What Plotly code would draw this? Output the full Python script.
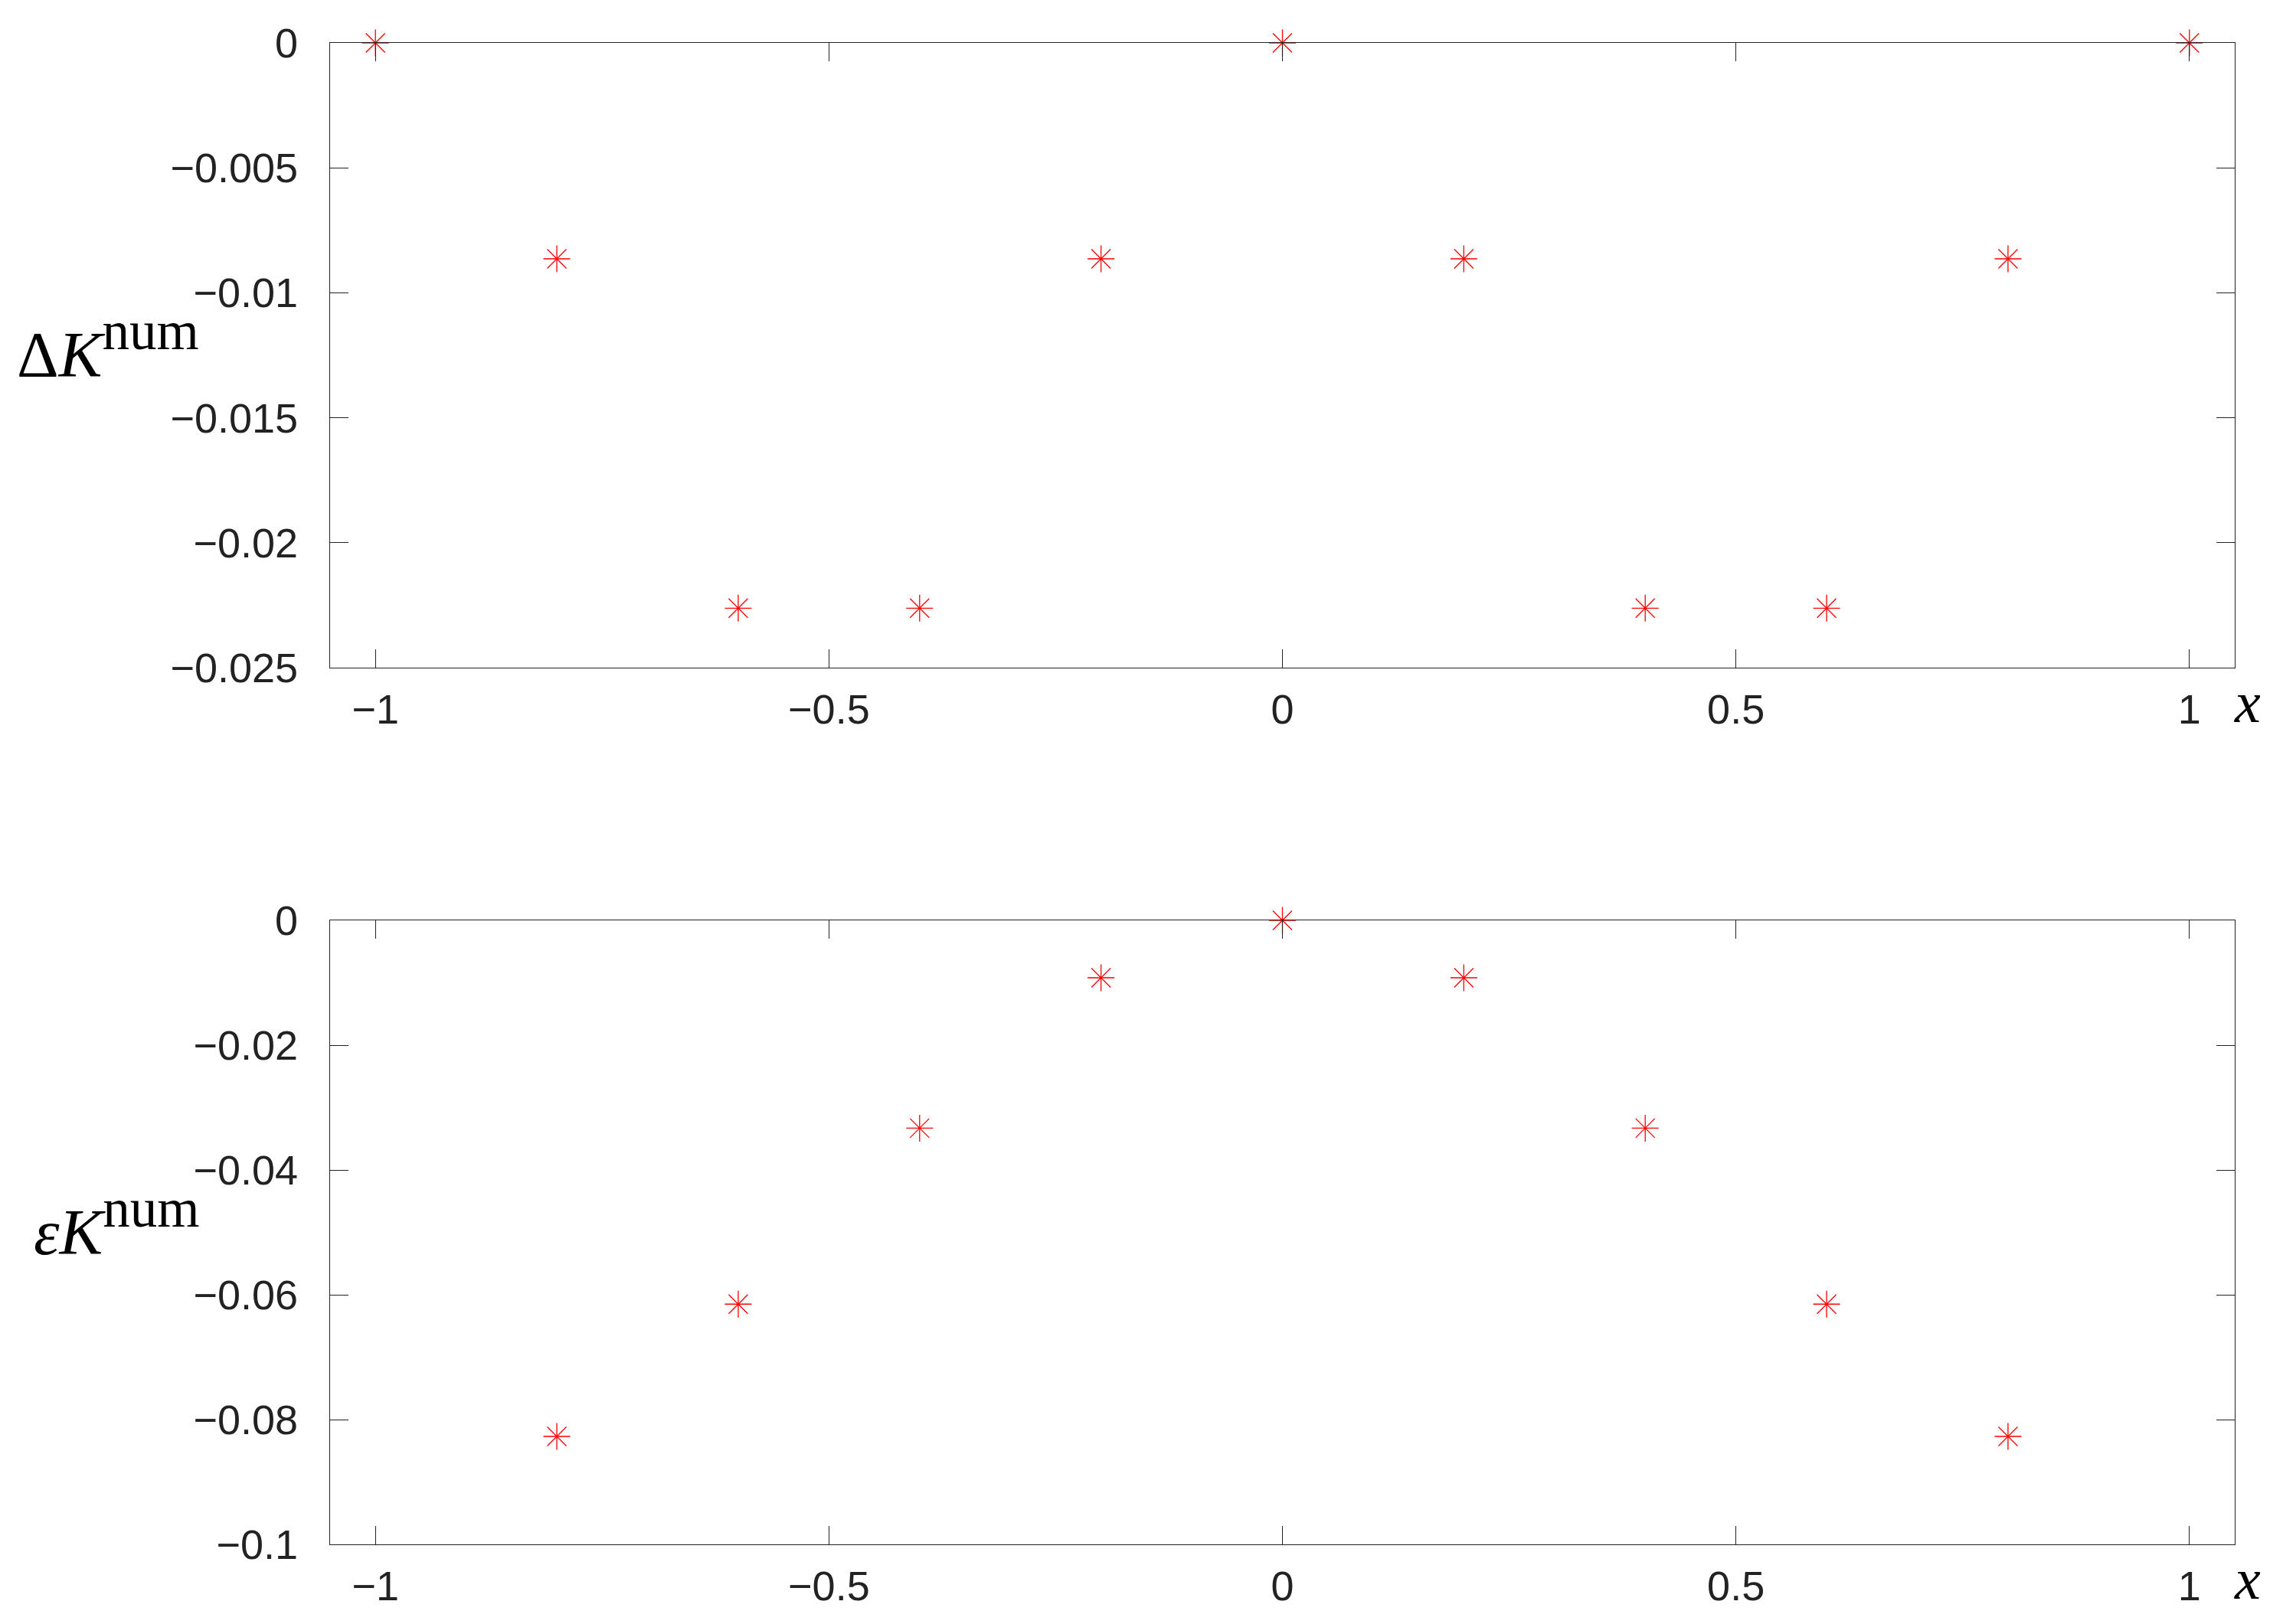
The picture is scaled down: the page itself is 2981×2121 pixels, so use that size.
import plotly.graph_objects as go

# Data
x_top = [-1.0, -0.8, -0.6, -0.4, -0.2, 0.0, 0.2, 0.4, 0.6, 0.8, 1.0]
dK_num = [0.0, -0.00864, -0.02262, -0.02262, -0.00864, 0.0, -0.00864, -0.02262, -0.02262, -0.00864, 0.0]

x_bot = [-0.8, -0.6, -0.4, -0.2, 0.0, 0.2, 0.4, 0.6, 0.8]
epsK_num = [-0.0827, -0.0615, -0.0333, -0.0092, 0.0, -0.0092, -0.0333, -0.0615, -0.0827]

top_title = 'Δ<i>K</i><sup><span style="font-size:71px">num</span></sup>'
bot_title = '<i>ε</i><i>K</i><sup><span style="font-size:71px">num</span></sup>'
x_title = "<i>x</i>"

RED = "#ff0000"
AX = "#222222"
# page body has an 8px default margin: keep the figure inside the window
W, H = 2981 - 16, 2121 - 16
ML, MT = 431 - 8, 56 - 8
PW = 2918 - 431
PH = 2017 - 56
MR = W - ML - PW
MB = H - MT - PH

fig = go.Figure()

def add_star(x, y, xa, ya):
    # asterisk drawn as a "+" and an "x" centred on the same points
    for sym in ["cross-thin-open", "x-thin-open"]:
        fig.add_trace(go.Scatter(
            x=x, y=y, mode="markers", xaxis=xa, yaxis=ya,
            marker=dict(symbol=sym, size=25, color=RED,
                        line=dict(color=RED, width=1.3)),
            cliponaxis=False, showlegend=False, hoverinfo="x+y"))

add_star(x_top, dK_num, "x", "y")
add_star(x_bot, epsK_num, "x2", "y2")

tickfont = dict(family="Liberation Sans, Arial, sans-serif", size=54, color=AX)
common_x = dict(range=[-1.05, 1.05], dtick=0.5, tick0=0, showgrid=False, zeroline=False,
                showline=True, linecolor=AX, linewidth=1.3, mirror="ticks",
                ticks="inside", ticklen=24, tickwidth=1.3, tickcolor=AX,
                tickfont=tickfont, ticklabelstandoff=7, automargin=False)
common_y = dict(showgrid=False, zeroline=False,
                showline=True, linecolor=AX, linewidth=1.3, mirror="ticks",
                ticks="inside", ticklen=24, tickwidth=1.3, tickcolor=AX,
                tickfont=tickfont, ticklabelstandoff=30, automargin=False)

top_dom = [1 - 816 / PH, 1]
bot_dom = [0, 815 / PH]

fig.update_layout(
    width=W, height=H,
    margin=dict(l=ML, r=MR, t=MT, b=MB),
    paper_bgcolor="white", plot_bgcolor="white",
    xaxis=dict(common_x, anchor="y", domain=[0, 1]),
    yaxis=dict(common_y, range=[-0.025, 0], dtick=0.005, tick0=0, domain=top_dom, anchor="x"),
    xaxis2=dict(common_x, anchor="y2", domain=[0, 1]),
    yaxis2=dict(common_y, range=[-0.1, 0], dtick=0.02, tick0=0, domain=bot_dom, anchor="x2"),
)

serif = dict(family="Liberation Serif, Times New Roman, serif", size=85, color="black")
top_y = 0.7677
bot_y = top_y - 1146 / PH
fig.add_annotation(text=top_title, xref="paper", yref="paper", x=-0.0679, y=top_y,
                   xanchor="right", yanchor="bottom", showarrow=False, font=serif)
fig.add_annotation(text=bot_title, xref="paper", yref="paper", x=-0.0679, y=bot_y,
                   xanchor="right", yanchor="bottom", showarrow=False, font=serif)
xfont = dict(family="Liberation Serif, Times New Roman, serif", size=76, color="black")
fig.add_annotation(text=x_title, xref="paper", yref="paper", x=1.0068, y=0.5609,
                   xanchor="center", yanchor="middle", showarrow=False, font=xfont)
fig.add_annotation(text=x_title, xref="paper", yref="paper", x=1.0068, y=-0.023,
                   xanchor="center", yanchor="middle", showarrow=False, font=xfont)

fig.write_html("out.html")
